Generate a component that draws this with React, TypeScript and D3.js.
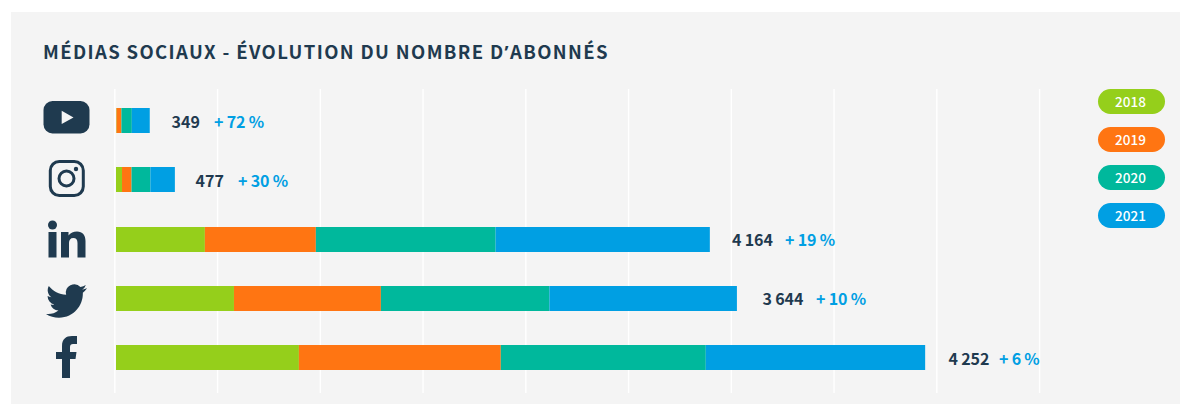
import React from "react";
import * as d3 from "d3";

const networks = ["YouTube", "Instagram", "LinkedIn", "Twitter", "Facebook"];
const years = ["2018", "2019", "2020", "2021"];
const v2018 = [10, 117, 1730, 2296, 3560];
const v2019 = [95, 185, 2160, 2860, 3930];
const v2020 = [203, 367, 3499, 3280, 3990];
const v2021 = [349, 477, 4170, 3650, 4270];
const growth = ["+\u200972\u2009%", "+\u200930\u2009%", "+\u200919\u2009%", "+\u200910\u2009%", "+\u20096\u2009%"];
const totalsLabels = ["349", "477", "4\u2009164", "3\u2009644", "4\u2009252"];
const gridTicks = d3.range(0, 20000, 2000);
const colors = ["#95cf1b", "#ff7512", "#00b89c", "#009fe3"];

const W = 1180, H = 404;
const INK = "#1f3a4f", BG = "#f4f4f4";
const FONT = "'Noto Sans CJK SC','Noto Sans',sans-serif";
const labelX = [171.5, 195.5, 732, 762.5, 948.5];
const pctX = [214, 238, 785, 816, 999];

const TWITTER = "M23.953 4.57a10 10 0 01-2.825.775 4.958 4.958 0 002.163-2.723c-.951.555-2.005.959-3.127 1.184a4.92 4.92 0 00-8.384 4.482C7.69 8.095 4.067 6.13 1.64 3.162a4.822 4.822 0 00-.666 2.475c0 1.71.87 3.213 2.188 4.096a4.904 4.904 0 01-2.228-.616v.06a4.923 4.923 0 003.946 4.827 4.996 4.996 0 01-2.212.085 4.936 4.936 0 004.604 3.417 9.867 9.867 0 01-6.102 2.105c-.39 0-.779-.023-1.17-.067a13.995 13.995 0 007.557 2.209c9.053 0 13.998-7.496 13.998-13.985 0-.21 0-.42-.015-.63A9.935 9.935 0 0024 4.59z";

function Icons() {
  return (
    <g fill={INK}>
      <rect x={43.5} y={101} width={46} height={32.5} rx={9} />
      <path d="M61.7 110.7 L73.5 117.4 L61.7 124 Z" fill={BG} />
      <g fill="none" stroke={INK} strokeWidth={3}>
        <rect x={50.3} y={161.5} width={33} height={34} rx={9} />
        <circle cx={66.5} cy={178.5} r={7.5} />
      </g>
      <circle cx={76} cy={169} r={2.2} />
      <circle cx={52.5} cy={225} r={4.5} />
      <rect x={48.5} y={232} width={8} height={25.5} />
      <path d="M61 232 H68.5 V235.5 C70.5 232.8 73.5 231.4 77 231.4 C82.5 231.4 85.5 235 85.5 241 V257.5 H77.5 V243 C77.5 239.8 76.2 238 73.3 238 C70.4 238 69 240 69 243 V257.5 H61 Z" />
      <g transform="translate(46,280.5) scale(1.71)"><path d={TWITTER} /></g>
      <path d="M70 378 H62 V359 H56 V352 H62 V346 C62 339 66 336 72 336 H77 V344 H73 C71 344 70 345 70 347 V352 H76.5 L75.5 359 H70 Z" />
    </g>
  );
}

export default function App() {
  const x = d3.scaleLinear().domain([0, 18000]).range([116, 116 + 102.75 * 9]);
  const y = d3.scaleBand().domain(networks).range([91.05, 387.05]).paddingInner(0.578).paddingOuter(0.289);
  const rows = networks.map((name, i) => ({ name, v: [v2018[i], v2019[i], v2020[i], v2021[i]] }));
  const series = d3.stack<any>().keys(["0", "1", "2", "3"]).value((d, k) => d.v[+k])(rows);

  return (
    <svg width={W} height={H} style={{ position: "fixed", left: 0, top: 0, display: "block" }} fontFamily={FONT}>
      <rect x={11} y={12} width={W - 11} height={H - 12} fill={BG} />
      <text x={43} y={59} fontSize={18.5} fontWeight={700} fill={INK} letterSpacing={1.36}>
        MÉDIAS SOCIAUX - ÉVOLUTION DU NOMBRE D<tspan fontFamily="'Noto Sans',sans-serif">’</tspan>ABONNÉS
      </text>
      {gridTicks.map((t) => (
        <line key={t} x1={x(t) - 1.2} x2={x(t) - 1.2} y1={89} y2={393} stroke="#ffffff" strokeWidth={1.4} />
      ))}
      {series.map((s, k) => (
        <g key={k} fill={colors[k]}>
          {s.map((d, i) => (
            <rect key={i} x={x(d[0])} y={Math.round(y(networks[i])!)} width={x(d[1]) - x(d[0])} height={25} />
          ))}
        </g>
      ))}
      {networks.map((n, i) => (
        <g key={n} fontSize={16} fontWeight={700}>
          <text x={labelX[i]} y={y(n)! + 19.6} fill={INK}>{totalsLabels[i]}</text>
          <text x={pctX[i]} y={y(n)! + 19.6} fill={colors[3]}>{growth[i]}</text>
        </g>
      ))}
      <Icons />
      {years.map((yr, i) => (
        <g key={yr}>
          <rect x={1098} y={89 + 38 * i} width={67} height={25} rx={12.5} fill={colors[i]} />
          <text x={1130.5} y={107 + 38 * i} textAnchor="middle" fontSize={13.5} fontWeight={500} fill="#fff">{yr}</text>
        </g>
      ))}
    </svg>
  );
}
